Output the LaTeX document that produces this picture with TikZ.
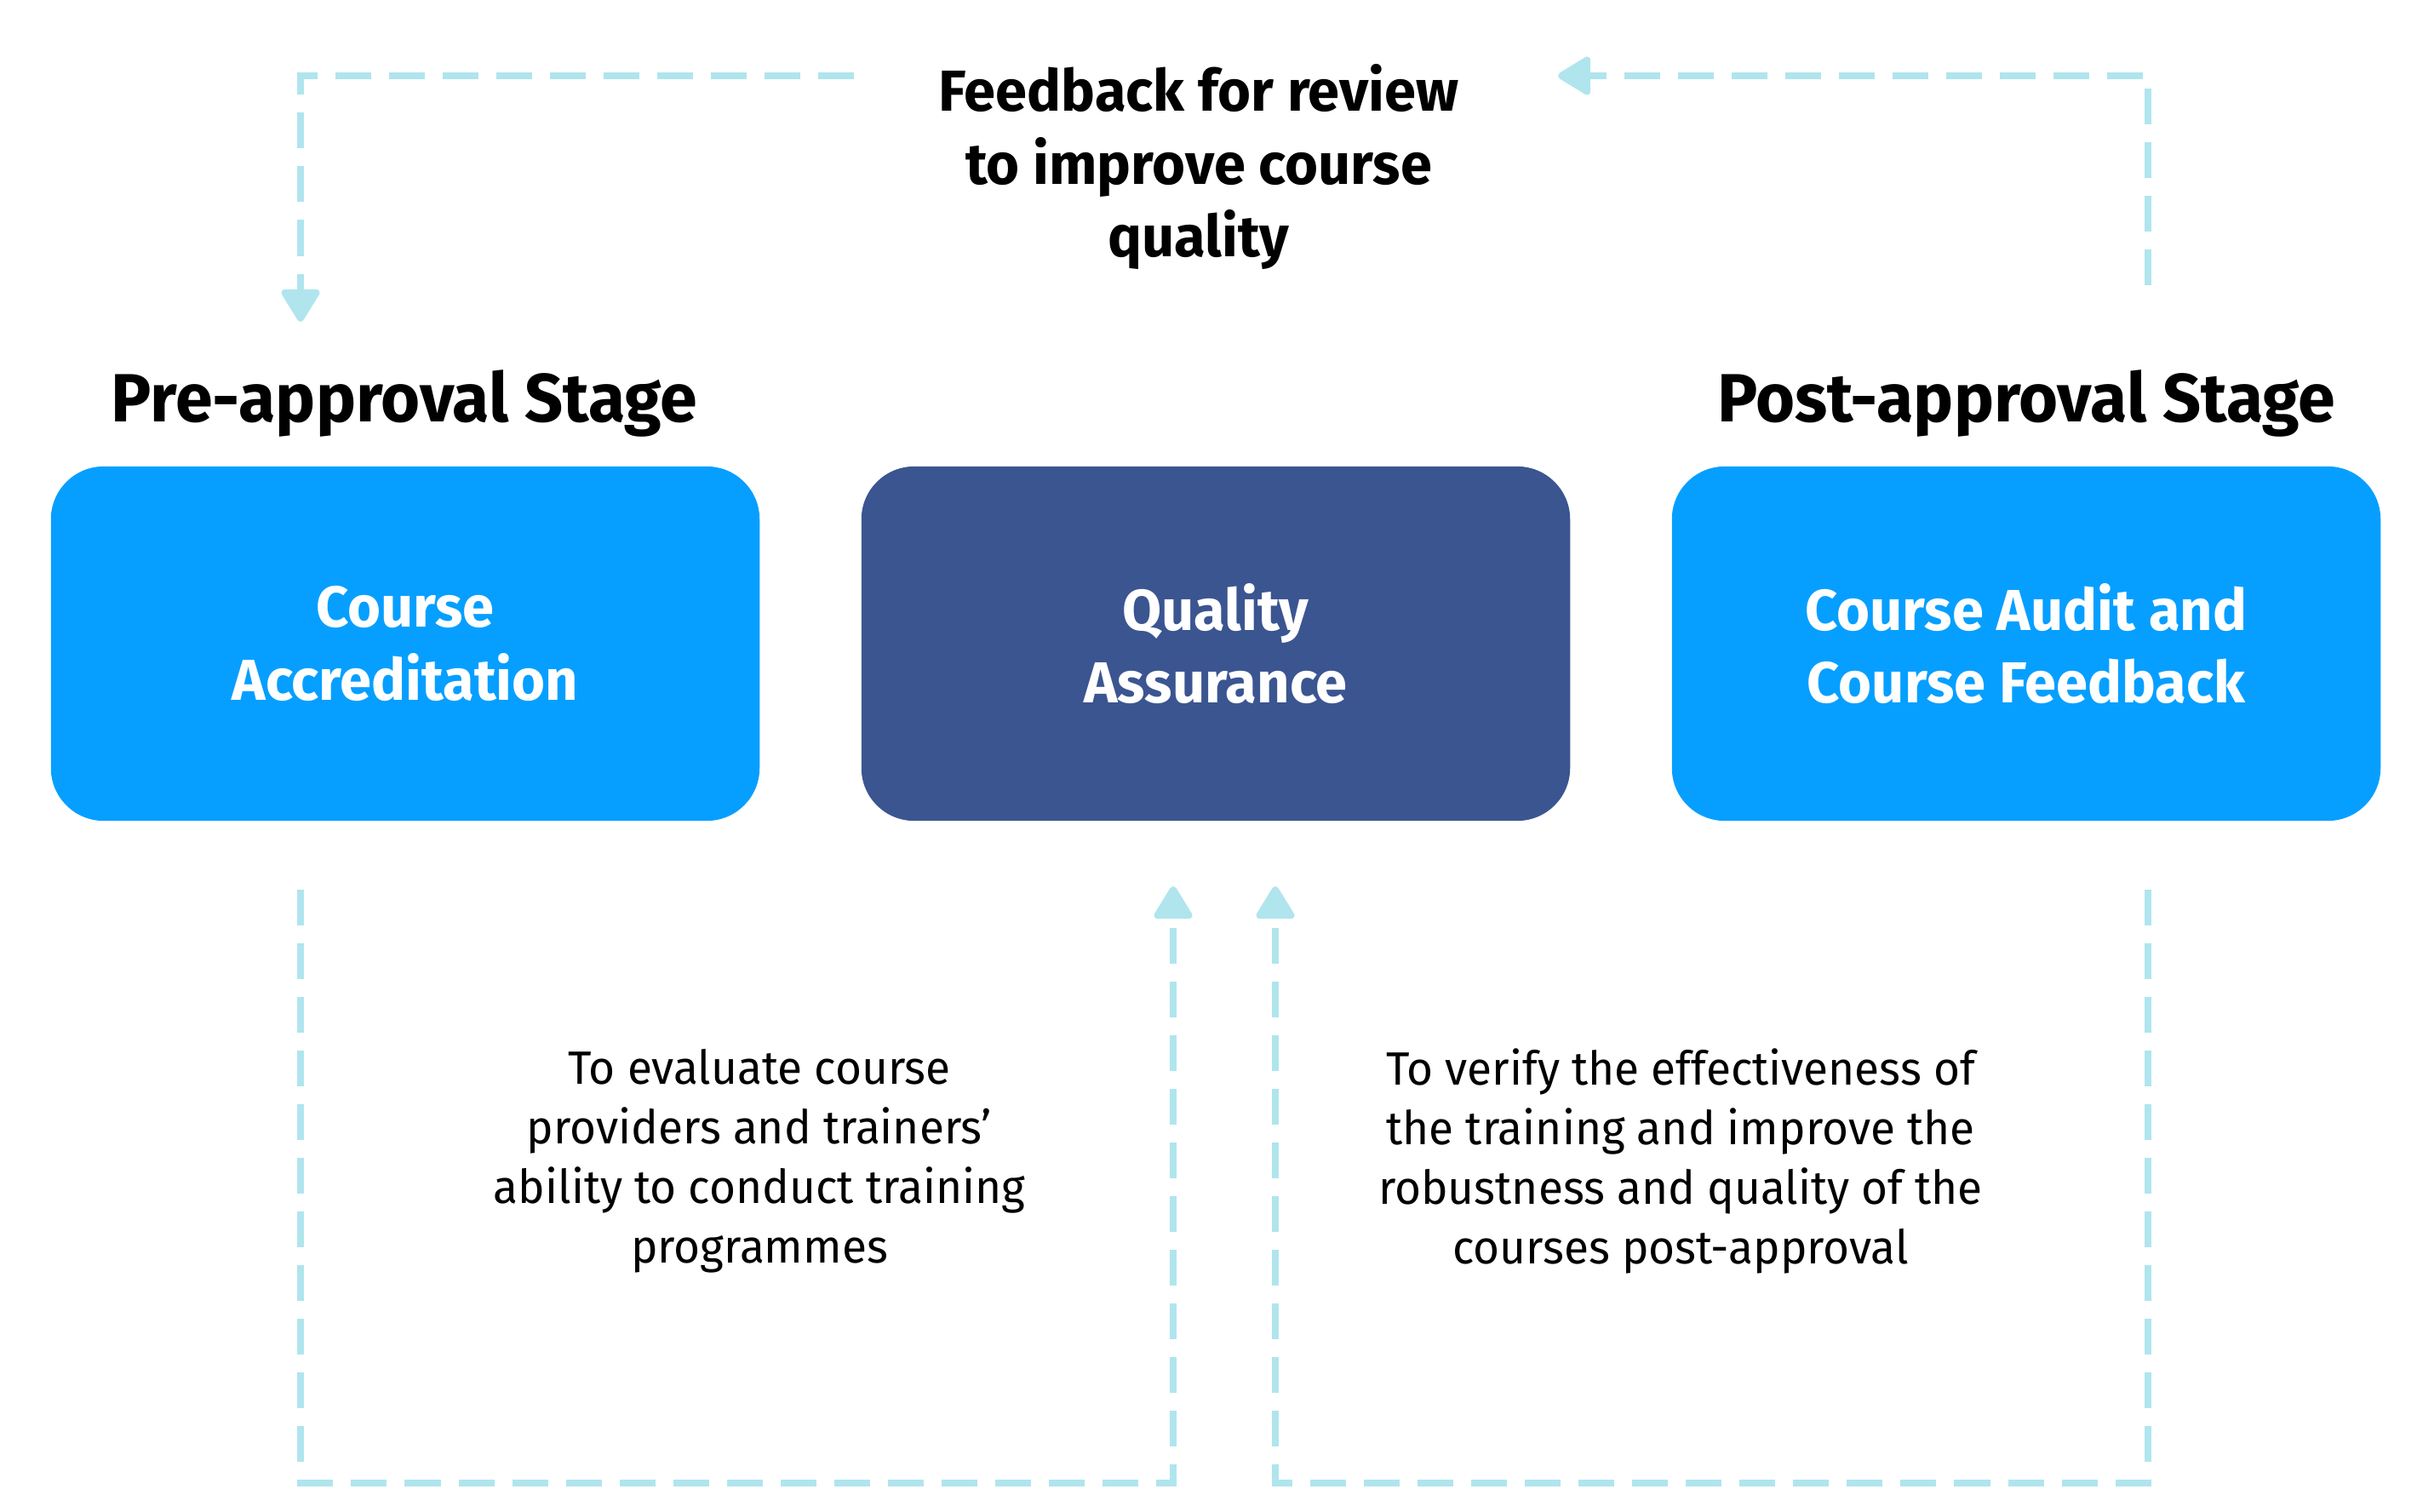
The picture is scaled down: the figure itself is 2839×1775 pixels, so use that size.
\documentclass[tikz,border=0pt]{standalone}
\usepackage{fontspec}
\setmainfont{Fira Sans}[FakeStretch=0.985]
\newfontfamily\descfont{Fira Sans}[FakeStretch=0.97]
\usetikzlibrary{arrows.meta}
\definecolor{boxblue}{HTML}{069FFF}
\definecolor{boxnavy}{HTML}{3B5591}
\definecolor{dashc}{HTML}{B0E5EE}
\tikzset{
  box/.style={rounded corners=0.62cm, minimum width=8.32cm, minimum height=4.16cm,
    inner sep=0pt, text=white, align=center,
    font=\bfseries\fontsize{19.3pt}{24.2pt}\selectfont},
  stagelbl/.style={inner sep=0pt, font=\bfseries\fontsize{22.8pt}{27pt}\selectfont},
  fbtxt/.style={inner sep=0pt, align=center, font=\bfseries\fontsize{19.3pt}{24.2pt}\selectfont},
  desc/.style={inner sep=0pt, align=center, font=\descfont\fontsize{15.6pt}{19.9pt}\selectfont},
  fbline/.style={draw=dashc, line width=0.08cm, dash pattern=on 0.42cm off 0.21cm,
    -{Triangle[length=0.42cm,width=0.49cm,round]}},
}
\begin{document}
\begin{tikzpicture}[x=0.01cm,y=-0.01cm]
\useasboundingbox (0,0) rectangle (2839,1775);
\node[box, fill=boxblue] (ca) at (476,756) {Course\\Accreditation};
\node[box, fill=boxnavy] (qa) at (1428,756) {Quality\\Assurance};
\node[box, fill=boxblue] (caf) at (2380,756) {Course Audit and\\Course Feedback};
\node[stagelbl] (pre) at (475,474) {Pre-approval Stage};
\node[stagelbl] (post) at (2380,474) {Post-approval Stage};
\node[fbtxt] (fb) at (1408,196) {Feedback for review\\to improve course\\quality};
\node[desc] (d1) at (892,1364) {To evaluate course\\providers and trainers’\\ability to conduct training\\programmes};
\node[desc] (d2) at (1974,1364) {To verify the effectiveness of\\the training and improve the\\robustness and quality of the\\courses post-approval};
\coordinate (a0) at (1003,89); \coordinate (a1) at (353,89); \coordinate (a2) at (353,378);
\coordinate (b0) at (2523,335); \coordinate (b1) at (2523,89); \coordinate (b2) at (1830,89);
\coordinate (c0) at (353,1045); \coordinate (c1) at (353,1742); \coordinate (c2) at (1378,1742); \coordinate (c3) at (1378,1041);
\coordinate (e0) at (2523,1045); \coordinate (e1) at (2523,1742); \coordinate (e2) at (1498,1742); \coordinate (e3) at (1498,1041);
\draw[fbline] (a0) -- (a1) -- (a2);
\draw[fbline] (b0) -- (b1) -- (b2);
\draw[fbline] (c0) -- (c1) -- (c2) -- (c3);
\draw[fbline] (e0) -- (e1) -- (e2) -- (e3);
\end{tikzpicture}
\end{document}
